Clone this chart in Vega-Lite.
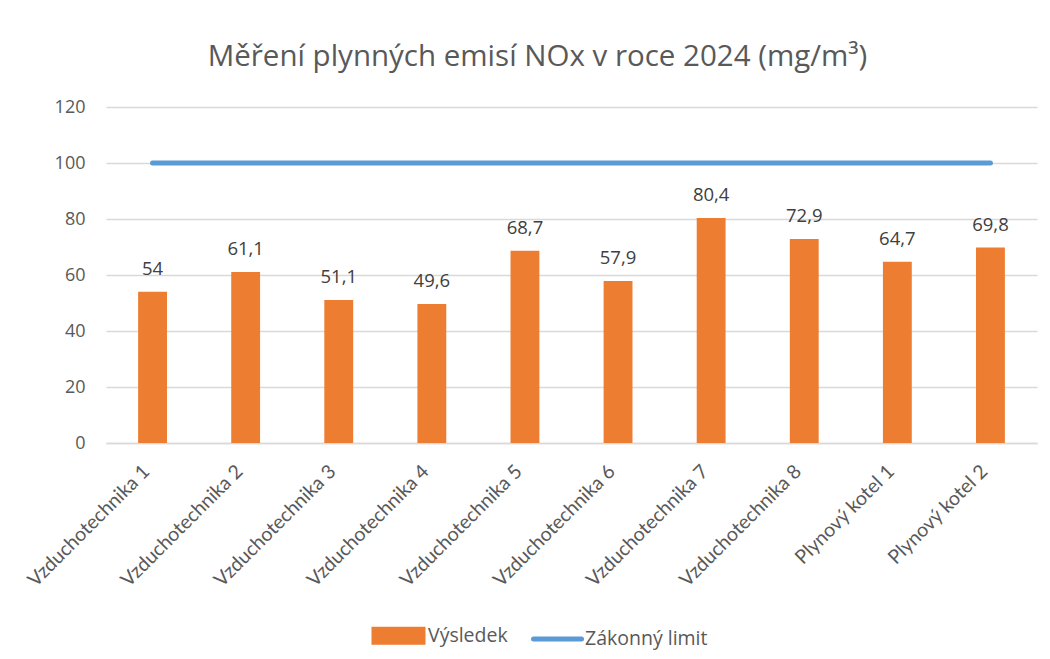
{
  "$schema": "https://vega.github.io/schema/vega-lite/v6.json",
  "width": 931,
  "height": 336,
  "autosize": {"type": "none"},
  "padding": {"left": 106, "top": 107, "right": 13, "bottom": 216},
  "background": "white",
  "config": {
    "view": {"stroke": null},
    "locale": {"number": {"decimal": ",", "thousands": " ", "grouping": [3], "currency": ["", " Kč"]}}
  },
  "title": {
    "text": "Měření plynných emisí NOx v roce 2024 (mg/m³)",
    "font": "Open Sans",
    "fontSize": 29.5,
    "fontWeight": "normal",
    "color": "#595959",
    "anchor": "middle",
    "dx": -34,
    "offset": 26
  },
  "data": {
    "values": [
      {"zdroj": "Vzduchotechnika 1", "vysledek": 54, "limit": 100},
      {"zdroj": "Vzduchotechnika 2", "vysledek": 61.1, "limit": 100},
      {"zdroj": "Vzduchotechnika 3", "vysledek": 51.1, "limit": 100},
      {"zdroj": "Vzduchotechnika 4", "vysledek": 49.6, "limit": 100},
      {"zdroj": "Vzduchotechnika 5", "vysledek": 68.7, "limit": 100},
      {"zdroj": "Vzduchotechnika 6", "vysledek": 57.9, "limit": 100},
      {"zdroj": "Vzduchotechnika 7", "vysledek": 80.4, "limit": 100},
      {"zdroj": "Vzduchotechnika 8", "vysledek": 72.9, "limit": 100},
      {"zdroj": "Plynový kotel 1", "vysledek": 64.7, "limit": 100},
      {"zdroj": "Plynový kotel 2", "vysledek": 69.8, "limit": 100}
    ]
  },
  "encoding": {
    "x": {
      "field": "zdroj",
      "type": "nominal",
      "sort": null,
      "scale": {"paddingInner": 0.69, "paddingOuter": 0.345},
      "axis": {
        "title": null,
        "labelAngle": -45,
        "labelAlign": "right",
        "labelBaseline": "middle",
        "labelFont": "Lato",
        "labelFontSize": 19.5,
        "labelColor": "#595959",
        "labelPadding": 25,
        "labelOffset": -6,
        "ticks": false,
        "domainColor": "#d9d9d9",
        "domainWidth": 1.5,
        "grid": false
      }
    }
  },
  "layer": [
    {
      "mark": {"type": "bar"},
      "encoding": {
        "y": {
          "field": "vysledek",
          "type": "quantitative",
          "scale": {"domain": [0, 120]},
          "axis": {
            "title": null,
            "values": [0, 20, 40, 60, 80, 100, 120],
            "domain": false,
            "ticks": false,
            "gridColor": "#d9d9d9",
            "gridWidth": 1.5,
            "labelFont": "Open Sans",
            "labelFontSize": 18,
            "labelColor": "#595959",
            "labelPadding": 21
          }
        },
        "color": {
          "datum": "Výsledek",
          "type": "nominal",
          "scale": {"domain": ["Výsledek", "Zákonný limit"], "range": ["#ed7d31", "#5b9bd5"]},
          "legend": {
            "orient": "none",
            "legendX": 287,
            "legendY": 513.5,
            "direction": "horizontal",
            "title": null,
            "labelFont": "Open Sans",
            "labelFontSize": 19.5,
            "labelColor": "#595959",
            "symbolSize": 625,
            "symbolStrokeWidth": 5,
            "labelOffset": 5,
            "columnPadding": 15,
            "encode": {
              "symbols": {
                "update": {
                  "shape": {"signal": "(datum.value === 'Výsledek' ? 'M-2.72,-0.52H1.2V0.52H-2.72Z' : 'M-2.52,0H1.32')"},
                  "fill": {"signal": "(datum.value === 'Výsledek' ? '#ed7d31' : 'transparent')"},
                  "stroke": {"signal": "(datum.value === 'Výsledek' ? 'transparent' : '#5b9bd5')"},
                  "strokeWidth": {"value": 5},
                  "strokeCap": {"value": "round"},
                  "opacity": {"value": 1}
                }
              }
            }
          }
        }
      }
    },
    {
      "mark": {"type": "text", "font": "Open Sans", "fontSize": 18.5, "color": "#404040", "baseline": "alphabetic", "dy": -17},
      "encoding": {
        "y": {"field": "vysledek", "type": "quantitative"},
        "text": {"field": "vysledek", "type": "quantitative", "format": ".1~f"}
      }
    },
    {
      "mark": {"type": "line", "strokeWidth": 5, "strokeCap": "round"},
      "encoding": {
        "y": {"field": "limit", "type": "quantitative"},
        "color": {"datum": "Zákonný limit", "type": "nominal"}
      }
    }
  ]
}
